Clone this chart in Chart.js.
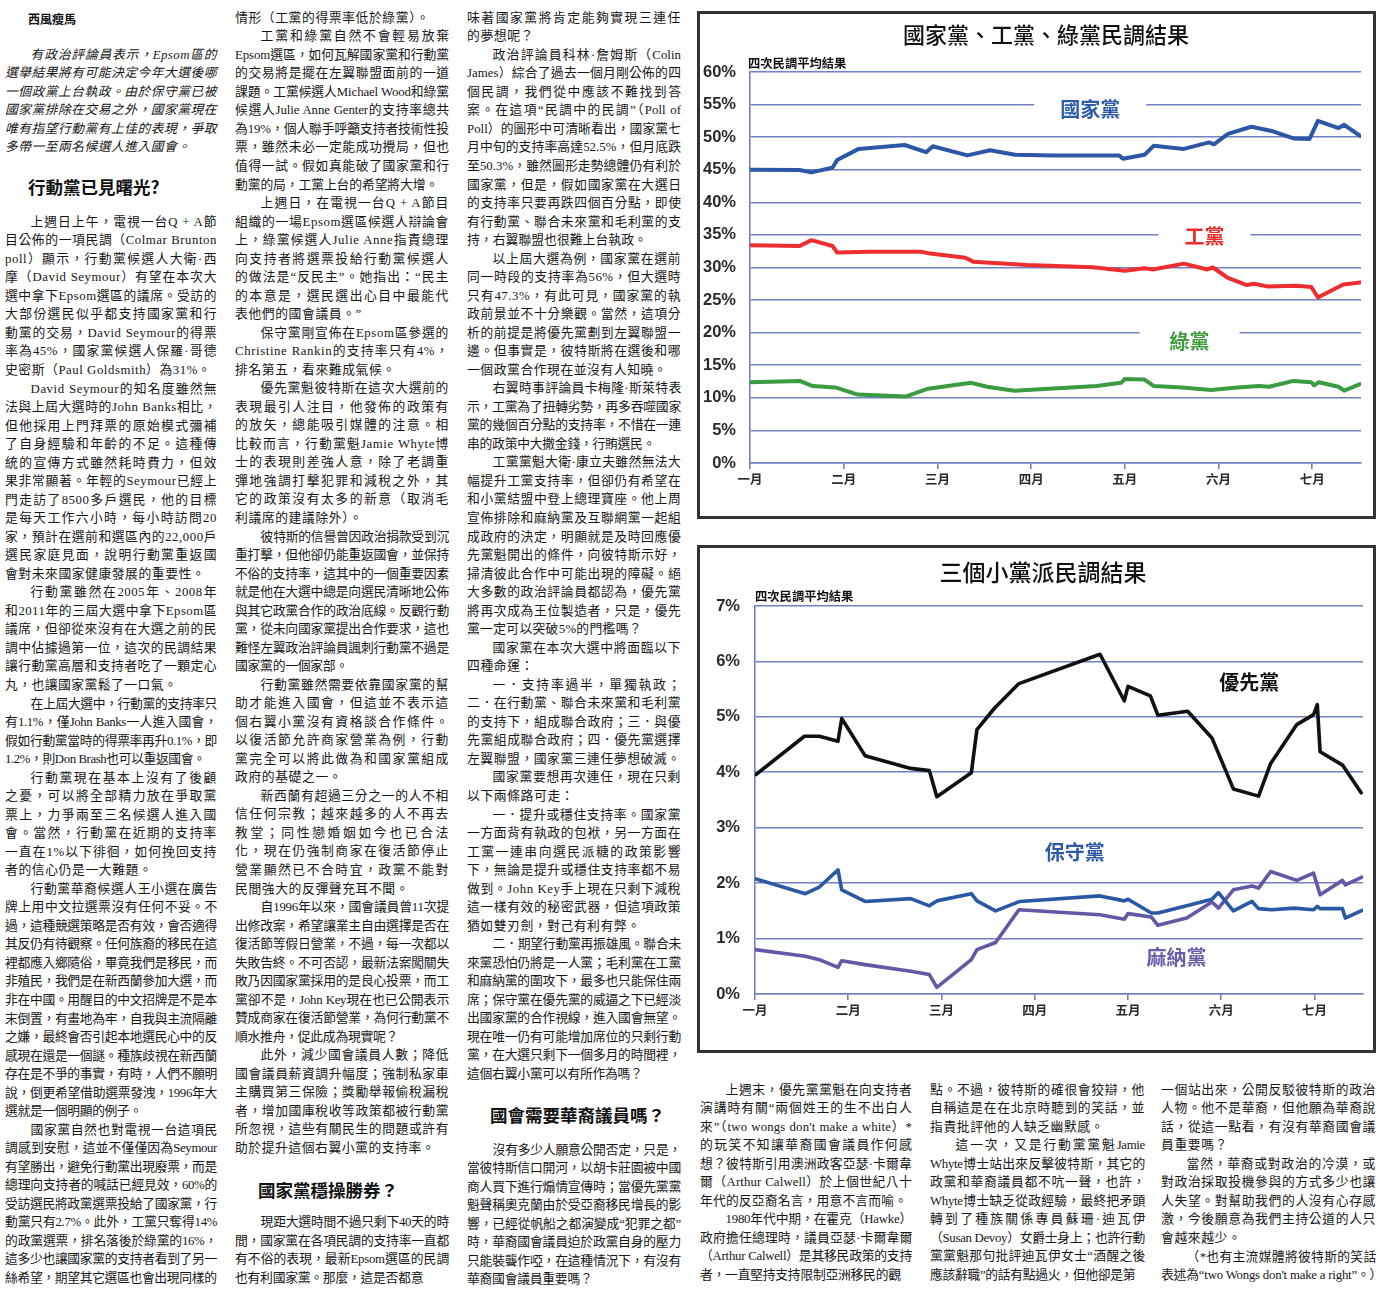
<!DOCTYPE html>
<html lang="zh-Hant">
<head>
<meta charset="utf-8">
<title>民調結果</title>
<script src="https://cdn.jsdelivr.net/npm/chart.js@4.4.1/dist/chart.umd.min.js"></script>
<style>
  html, body { margin: 0; padding: 0; background: #fff; }
  body { position: relative; width: 1378px; height: 1290px; overflow: hidden;
         font-family: "Liberation Serif", "Noto Sans CJK TC", serif; color: #161616; }
  .p { position: absolute; font-size: 12.8px; line-height: 18.53px; text-align: justify; text-indent: 2em; }
  .ni { text-indent: 0; }
  .c1 { left: 5px; width: 212px; }
  .c2 { left: 235px; width: 214px; }
  .c3 { left: 467px; width: 214px; }
  .c4 { left: 700px; width: 212px; }
  .c5 { left: 930px; width: 215px; }
  .c6 { left: 1161px; width: 215px; }
  .h { position: absolute; font-family: "Noto Sans CJK TC", sans-serif; font-weight: bold; font-size: 17.5px; line-height: 22px; color: #111; }
  .box { position: absolute; left: 697px; width: 679px; height: 508px; border: 3px solid #333; box-sizing: border-box; }
  .box canvas { position: absolute; left: 0; top: 0; }
  .ttl { position: absolute; font-family: "Noto Sans CJK TC", sans-serif; font-weight: 500; color: #111; white-space: nowrap; transform: translateX(-50%); }
  .sub { position: absolute; font-family: "Noto Sans CJK TC", sans-serif; font-weight: bold; font-size: 12.3px; color: #111; white-space: nowrap; }
</style>
</head>
<body>

<!-- column 1 -->
<div class="h" style="left:28px;top:8px;font-size:12px;">西風瘦馬</div>
<div class="p c1" data-l="6" style="top:45.7px;font-style:italic;">有政治評論員表示，Epsom區的選舉結果將有可能決定今年大選後哪一個政黨上台執政。由於保守黨已被國家黨排除在交易之外，國家黨現在唯有指望行動黨有上佳的表現，爭取多帶一至兩名候選人進入國會。</div>
<div class="h" style="left:28px;top:176px;">行動黨已見曙光?</div>
<div class="p c1" data-l="9" style="top:212.7px;">上週日上午，電視一台Q + A節目公佈的一項民調（Colmar Brunton poll）顯示，行動黨候選人大衛·西摩（David Seymour）有望在本次大選中拿下Epsom選區的議席。受訪的大部份選民似乎都支持國家黨和行動黨的交易，David Seymour的得票率為45%，國家黨候選人保羅·哥德史密斯（Paul Goldsmith）為31%。</div>
<div class="p c1" data-l="11" style="top:379.5px;">David Seymour的知名度雖然無法與上屆大選時的John Banks相比，但他採用上門拜票的原始模式彌補了自身經驗和年齡的不足。這種傳統的宣傳方式雖然耗時費力，但效果非常顯著。年輕的Seymour已經上門走訪了8500多戶選民，他的目標是每天工作六小時，每小時訪問20家，預計在選前和選區內的22,000戶選民家庭見面，說明行動黨重返國會對未來國家健康發展的重要性。</div>
<div class="p c1" data-l="6" style="top:583.3px;">行動黨雖然在2005年、2008年和2011年的三屆大選中拿下Epsom區議席，但卻從來沒有在大選之前的民調中佔據過第一位，這次的民調結果讓行動黨高層和支持者吃了一顆定心丸，也讓國家黨鬆了一口氣。</div>
<div class="p c1" data-l="4" style="top:694.5px;">在上屆大選中，行動黨的支持率只有1.1%，僅John Banks一人進入國會，假如行動黨當時的得票率再升0.1%，即1.2%，則Don Brash也可以重返國會。</div>
<div class="p c1" data-l="6" style="top:768.6px;">行動黨現在基本上沒有了後顧之憂，可以將全部精力放在爭取黨票上，力爭兩至三名候選人進入國會。當然，行動黨在近期的支持率一直在1%以下徘徊，如何挽回支持者的信心仍是一大難題。</div>
<div class="p c1" data-l="13" style="top:879.8px;">行動黨華裔候選人王小選在廣告牌上用中文拉選票沒有任何不妥。不過，這種競選策略是否有效，會否適得其反仍有待觀察。任何族裔的移民在這裡都應入鄉隨俗，畢竟我們是移民，而非殖民，我們是在新西蘭參加大選，而非在中國。用醒目的中文招牌是不是本末倒置，有畫地為牢，自我與主流隔離之嫌，最終會否引起本地選民心中的反感現在還是一個謎。種族歧視在新西蘭存在是不爭的事實，有時，人們不願明說，倒更希望借助選票發洩，1996年大選就是一個明顯的例子。</div>
<div class="p c1" data-l="9" style="top:1120.7px;">國家黨自然也對電視一台這項民調感到安慰，這並不僅僅因為Seymour有望勝出，避免行動黨出現廢票，而是總理向支持者的喊話已經見效，60%的受訪選民將政黨選票投給了國家黨，行動黨只有2.7%。此外，工黨只奪得14%的政黨選票，排名落後於綠黨的16%，這多少也讓國家黨的支持者看到了另一絲希望，期望其它選區也會出現同樣的</div>

<!-- column 2 -->
<div class="p c2 ni" data-l="1" style="top:8.7px;">情形（工黨的得票率低於綠黨）。</div>
<div class="p c2" data-l="9" style="top:27.3px;">工黨和綠黨自然不會輕易放棄Epsom選區，如何瓦解國家黨和行動黨的交易將是擺在左翼聯盟面前的一道課題。工黨候選人Michael Wood和綠黨候選人Julie Anne Genter的支持率總共為19%，個人聯手呼籲支持者技術性投票，雖然未必一定能成功攪局，但也值得一試。假如真能破了國家黨和行動黨的局，工黨上台的希望將大增。</div>
<div class="p c2" data-l="7" style="top:194px;">上週日，在電視一台Q + A節目組織的一場Epsom選區候選人辯論會上，綠黨候選人Julie Anne指責總理向支持者將選票投給行動黨候選人的做法是“反民主”。她指出：“民主的本意是，選民選出心目中最能代表他們的國會議員。”</div>
<div class="p c2" data-l="3" style="top:323.7px;">保守黨剛宣佈在Epsom區參選的Christine Rankin的支持率只有4%，排名第五，看來難成氣候。</div>
<div class="p c2" data-l="8" style="top:379.3px;">優先黨魁彼特斯在這次大選前的表現最引人注目，他發佈的政策有的放矢，總能吸引媒體的注意。相比較而言，行動黨魁Jamie Whyte博士的表現則差強人意，除了老調重彈地強調打擊犯罪和減稅之外，其它的政策沒有太多的新意（取消毛利議席的建議除外）。</div>
<div class="p c2" data-l="8" style="top:527.5px;">彼特斯的信譽曾因政治捐款受到沉重打擊，但他卻仍能重返國會，並保持不俗的支持率，這其中的一個重要因素就是他在大選中總是向選民清晰地公佈與其它政黨合作的政治底線。反觀行動黨，從未向國家黨提出合作要求，這也難怪左翼政治評論員諷刺行動黨不過是國家黨的一個家部。</div>
<div class="p c2" data-l="6" style="top:675.7px;">行動黨雖然需要依靠國家黨的幫助才能進入國會，但這並不表示這個右翼小黨沒有資格談合作條件。以復活節允許商家營業為例，行動黨完全可以將此做為和國家黨組成政府的基礎之一。</div>
<div class="p c2" data-l="6" style="top:786.9px;">新西蘭有超過三分之一的人不相信任何宗教；越來越多的人不再去教堂；同性戀婚姻如今也已合法化，現在仍強制商家在復活節停止營業顯然已不合時宜，政黨不能對民間強大的反彈聲充耳不聞。</div>
<div class="p c2" data-l="8" style="top:898.1px;">自1996年以來，國會議員曾11次提出修改案，希望讓業主自由選擇是否在復活節等假日營業，不過，每一次都以失敗告終。不可否認，最新法案闖關失敗乃因國家黨採用的是良心投票，而工黨卻不是，John Key現在也已公開表示贊成商家在復活節營業，為何行動黨不順水推舟，促此成為現實呢？</div>
<div class="p c2" data-l="6" style="top:1046.3px;">此外，減少國會議員人數；降低國會議員薪資調升幅度；強制私家車主購買第三保險；獎勵舉報偷稅漏稅者，增加國庫稅收等政策都被行動黨所忽視，這些有關民生的問題或許有助於提升這個右翼小黨的支持率。</div>
<div class="h" style="left:258px;top:1179px;">國家黨穩操勝券？</div>
<div class="p c2" data-l="4" style="top:1213.1px;">現距大選時間不過只剩下40天的時間，國家黨在各項民調的支持率一直都有不俗的表現，最新Epsom選區的民調也有利國家黨。那麼，這是否都意</div>

<!-- column 3 -->
<div class="p c3 ni" data-l="2" style="top:8.7px;">味著國家黨將肯定能夠實現三連任的夢想呢？</div>
<div class="p c3" data-l="11" style="top:45.8px;">政治評論員科林·詹姆斯（Colin James）綜合了過去一個月剛公佈的四個民調，我們從中應該不難找到答案。在這項“民調中的民調”（Poll of Poll）的圖形中可清晰看出，國家黨七月中旬的支持率高達52.5%，但月底跌至50.3%，雖然圖形走勢總體仍有利於國家黨，但是，假如國家黨在大選日的支持率只要再跌四個百分點，即使有行動黨、聯合未來黨和毛利黨的支持，右翼聯盟也很難上台執政。</div>
<div class="p c3" data-l="7" style="top:249.6px;">以上屆大選為例，國家黨在選前同一時段的支持率為56%，但大選時只有47.3%，有此可見，國家黨的執政前景並不十分樂觀。當然，這項分析的前提是將優先黨劃到左翼聯盟一邊。但事實是，彼特斯將在選後和哪一個政黨合作現在並沒有人知曉。</div>
<div class="p c3" data-l="4" style="top:379.3px;">右翼時事評論員卡梅隆·斯萊特表示，工黨為了扭轉劣勢，再多吞噬國家黨的幾個百分點的支持率，不惜在一連串的政策中大撒金錢，行賄選民。</div>
<div class="p c3" data-l="10" style="top:453.4px;">工黨黨魁大衛·康立夫雖然無法大幅提升工黨支持率，但卻仍有希望在和小黨結盟中登上總理寶座。他上周宣佈排除和麻納黨及互聯網黨一起組成政府的決定，明顯就是及時回應優先黨魁開出的條件，向彼特斯示好，掃清彼此合作中可能出現的障礙。絕大多數的政治評論員都認為，優先黨將再次成為王位製造者，只是，優先黨一定可以突破5%的門檻嗎？</div>
<div class="p c3" data-l="2" style="top:638.7px;">國家黨在本次大選中將面臨以下四種命運：</div>
<div class="p c3" data-l="5" style="top:675.7px;">一．支持率過半，單獨執政；二．在行動黨、聯合未來黨和毛利黨的支持下，組成聯合政府；三．與優先黨組成聯合政府；四．優先黨選擇左翼聯盟，國家黨三連任夢想破滅。</div>
<div class="p c3" data-l="2" style="top:768.4px;">國家黨要想再次連任，現在只剩以下兩條路可走：</div>
<div class="p c3" data-l="7" style="top:805.5px;">一．提升或穩住支持率。國家黨一方面背有執政的包袱，另一方面在工黨一連串向選民派糖的政策影響下，無論是提升或穩住支持率都不易做到。John Key手上現在只剩下減稅這一樣有效的秘密武器，但這項政策猶如雙刃劍，對己有利有弊。</div>
<div class="p c3" data-l="8" style="top:935.2px;">二．期望行動黨再振雄風。聯合未來黨恐怕仍將是一人黨；毛利黨在工黨和麻納黨的圍攻下，最多也只能保住兩席；保守黨在優先黨的威逼之下已經淡出國家黨的合作視線，進入國會無望。現在唯一仍有可能增加席位的只剩行動黨，在大選只剩下一個多月的時間裡，這個右翼小黨可以有所作為嗎？</div>
<div class="h" style="left:490px;top:1104px;">國會需要華裔議員嗎？</div>
<div class="p c3" data-l="8" style="top:1140.7px;">沒有多少人願意公開否定，只是，當彼特斯信口開河，以胡卡莊園被中國商人買下進行煽情宣傳時；當優先黨黨魁聲稱奧克蘭由於受亞裔移民增長的影響，已經從帆船之都演變成“犯罪之都”時，華裔國會議員迫於政黨自身的壓力只能裝聾作啞，在這種情況下，有沒有華裔國會議員重要嗎？</div>

<!-- chart 1 -->
<div class="box" style="top:11px;"><canvas id="pollMain" width="673" height="502"></canvas></div>
<div class="ttl" style="left:1046px;top:17px;font-size:22px;">國家黨、工黨、綠黨民調結果</div>
<div class="sub" style="left:748px;top:54px;">四次民調平均結果</div>

<!-- chart 2 -->
<div class="box" style="top:545px;"><canvas id="pollMinor" width="673" height="502"></canvas></div>
<div class="ttl" style="left:1043px;top:554px;font-size:23px;">三個小黨派民調結果</div>
<div class="sub" style="left:755px;top:587px;">四次民調平均結果</div>

<!-- bottom right columns -->
<div class="p c4" data-l="7" style="top:1080.7px;">上週末，優先黨黨魁在向支持者演講時有關“兩個姓王的生不出白人來”（two wongs don't make a white）*的玩笑不知讓華裔國會議員作何感想？彼特斯引用澳洲政客亞瑟·卡爾韋爾（Arthur Calwell）於上個世紀八十年代的反亞裔名言，用意不言而喻。</div>
<div class="p c4" data-l="4" style="top:1210px;">1980年代中期，在霍克（Hawke）政府擔任總理時，議員亞瑟·卡爾韋爾（Arthur Calwell）是其移民政策的支持者，一直堅持支持限制亞洲移民的觀</div>
<div class="p c5 ni" data-l="3" style="top:1080.7px;">點。不過，彼特斯的確很會狡辯，他自稱這是在在北京時聽到的笑話，並指責批評他的人缺乏幽默感。</div>
<div class="p c5" data-l="8" style="top:1136.3px;">這一次，又是行動黨黨魁Jamie Whyte博士站出來反擊彼特斯，其它的政黨和華裔議員都不吭一聲，也許，Whyte博士缺乏從政經驗，最終把矛頭轉到了種族關係專員蘇珊·迪瓦伊（Susan Devoy）女爵士身上；也許行動黨黨魁那句批評迪瓦伊女士“酒醒之後應該辭職”的話有點過火，但他卻是第</div>
<div class="p c6 ni" data-l="4" style="top:1080.7px;">一個站出來，公開反駁彼特斯的政治人物。他不是華裔，但他願為華裔說話，從這一點看，有沒有華裔國會議員重要嗎？</div>
<div class="p c6" data-l="5" style="top:1154.8px;">當然，華裔或對政治的冷漠，或對政治採取投機參與的方式多少也讓人失望。對幫助我們的人沒有心存感激，今後願意為我們主持公道的人只會越來越少。</div>
<div class="p c6" data-l="2" style="top:1247.5px;">（*也有主流媒體將彼特斯的笑話表述為“two Wongs don't make a right”。）</div>

<script>
'use strict';

/* MONTHS ON THE X AXIS (0 = 一月 ... 6 = 七月) */
const months = ['一月', '二月', '三月', '四月', '五月', '六月', '七月'];

/* CHART 1: 國家黨 / 工黨 / 綠黨, percent */
const nationalX = [0, 0.53, 0.655, 0.88, 0.93, 1.16, 1.65, 1.88, 1.95, 2.32, 2.56, 2.83, 3.24, 3.94, 3.98, 4.21, 4.31, 4.63, 4.90, 4.95, 5.10, 5.35, 5.58, 5.80, 5.97, 6.06, 6.28, 6.34, 6.51];
const nationalY = [45.0, 44.95, 44.6, 45.3, 46.5, 48.2, 48.8, 47.7, 48.6, 47.2, 48.0, 47.3, 47.2, 47.2, 46.7, 47.3, 48.7, 48.2, 49.2, 48.9, 50.5, 51.6, 50.9, 49.8, 49.7, 52.5, 51.4, 51.9, 50.2];

const labourX = [0, 0.53, 0.655, 0.88, 0.93, 1.27, 1.83, 1.9, 2.30, 2.38, 2.96, 3.66, 4.0, 4.21, 4.30, 4.63, 4.88, 4.94, 5.10, 5.30, 5.38, 5.52, 5.83, 5.99, 6.06, 6.33, 6.51];
const labourY = [33.4, 33.3, 34.2, 33.3, 32.3, 32.4, 32.4, 32.2, 31.5, 30.9, 30.4, 30.05, 29.5, 29.9, 29.7, 30.6, 29.7, 30.0, 28.4, 27.3, 27.5, 27.1, 27.2, 27.0, 25.4, 27.4, 27.7];

const greenX = [0, 0.53, 0.67, 0.91, 1.15, 1.66, 1.90, 2.36, 2.53, 2.82, 3.70, 3.96, 4.0, 4.21, 4.31, 4.61, 4.92, 5.20, 5.43, 5.54, 5.80, 5.99, 6.02, 6.07, 6.28, 6.34, 6.51];
const greenY = [12.4, 12.6, 11.8, 11.6, 10.5, 10.2, 11.4, 12.3, 11.7, 11.1, 11.8, 12.3, 12.9, 12.8, 11.8, 11.6, 11.2, 11.6, 11.8, 11.7, 12.6, 12.4, 11.9, 12.4, 11.7, 11.1, 12.1];

/* CHART 2: 優先黨 / 保守黨 / 麻納黨, percent */
const nzFirstX = [0.01, 0.53, 0.69, 0.89, 0.93, 1.18, 1.67, 1.87, 1.95, 2.32, 2.38, 2.57, 2.83, 3.70, 3.96, 4.0, 4.24, 4.32, 4.64, 4.90, 5.13, 5.40, 5.53, 5.81, 5.99, 6.03, 6.06, 6.30, 6.50];
const nzFirstY = [3.96, 4.65, 4.65, 4.56, 4.97, 4.30, 4.07, 4.03, 3.56, 3.99, 4.77, 5.16, 5.60, 6.13, 5.29, 5.55, 5.38, 5.03, 5.10, 4.62, 3.70, 3.57, 4.16, 4.86, 5.04, 5.22, 4.37, 4.13, 3.63];

const conservX = [0, 0.54, 0.69, 0.89, 0.93, 1.18, 1.67, 1.87, 1.95, 2.32, 2.38, 2.58, 2.84, 3.70, 3.96, 4.0, 4.25, 4.32, 4.63, 4.90, 4.97, 5.13, 5.33, 5.40, 5.54, 5.78, 5.99, 6.03, 6.06, 6.30, 6.33, 6.51];
const conservY = [2.08, 1.81, 1.93, 2.24, 1.88, 1.67, 1.72, 1.59, 1.68, 1.81, 1.68, 1.50, 1.67, 1.77, 1.68, 1.71, 1.46, 1.46, 1.59, 1.71, 1.83, 1.50, 1.67, 1.54, 1.52, 1.55, 1.52, 1.58, 1.54, 1.54, 1.37, 1.51];

const manaX = [0, 0.54, 0.69, 0.89, 0.93, 1.18, 1.67, 1.87, 1.95, 2.32, 2.38, 2.58, 2.83, 3.70, 3.96, 4.0, 4.25, 4.32, 4.63, 4.90, 4.97, 5.13, 5.33, 5.40, 5.53, 5.81, 5.99, 6.06, 6.30, 6.33, 6.51];
const manaY = [0.80, 0.68, 0.62, 0.48, 0.60, 0.53, 0.41, 0.35, 0.12, 0.62, 0.80, 0.93, 1.52, 1.43, 1.35, 1.45, 1.39, 1.24, 1.37, 1.66, 1.55, 1.88, 1.95, 1.91, 2.21, 2.05, 2.18, 1.79, 2.05, 1.97, 2.11];

const gridColor = '#7480c4';
const tickColor = '#2a2a2a';
const lineH = 18.53;

// squeeze each paragraph until it takes the same number of lines as the print
function fitParagraphs() {
  document.querySelectorAll('.p[data-l]').forEach(p => {
    const want = +p.dataset.l * lineH + 1;
    let ls = 0.6;
    p.style.letterSpacing = ls + 'px';
    while (p.offsetHeight > want && ls > -1.5) {
      ls -= 0.05;
      p.style.letterSpacing = ls.toFixed(2) + 'px';
    }
  });
}

function toPoints(xs, ys) {
  return xs.map((x, i) => ({ x: x, y: ys[i] }));
}

function lineSet(label, xs, ys, color, width) {
  return {
    label: label,
    data: toPoints(xs, ys),
    borderColor: color,
    borderWidth: width,
    pointRadius: 0,
    tension: 0,
    borderJoinStyle: 'round',
    borderCapStyle: 'round',
    fill: false
  };
}

// party names written inside the plot, with a white patch over the grid line
const seriesLabels = {
  id: 'seriesLabels',
  beforeDatasetsDraw(chart, args, opts) {
    const ctx = chart.ctx;
    const xs = chart.scales.x;
    const ys = chart.scales.y;
    (opts.items || []).forEach(it => {
      const px = xs.getPixelForValue(it.x);
      const py = ys.getPixelForValue(it.y);
      ctx.save();
      ctx.font = opts.font;
      const w = ctx.measureText(it.text).width;
      if (it.gap) {
        ctx.fillStyle = '#fff';
        ctx.fillRect(px - w / 2 - it.gap, py - 13, w + it.gap * 2, 26);
      }
      ctx.fillStyle = it.color;
      ctx.textAlign = 'center';
      ctx.textBaseline = 'middle';
      ctx.fillText(it.text, px, py);
      ctx.restore();
    });
  }
};

function makeChart(id, datasets, yMax, yStep, area, labelItems) {
  const ctx = document.getElementById(id).getContext('2d');
  return new Chart(ctx, {
    type: 'line',
    data: { datasets: datasets },
    plugins: [seriesLabels],
    options: {
      responsive: false,
      animation: false,
      layout: { padding: { top: area.top, right: area.right, left: 0, bottom: 0 } },
      plugins: {
        legend: { display: false },
        tooltip: { enabled: false },
        seriesLabels: { font: 'bold 20px "Noto Sans CJK TC"', items: labelItems }
      },
      scales: {
        x: {
          type: 'linear',
          min: 0,
          max: 6.52,
          afterBuildTicks: scale => { scale.ticks = months.map((m, i) => ({ value: i })); },
          afterFit: scale => { scale.height = area.xHeight; },
          ticks: {
            callback: v => months[v],
            font: { family: 'Noto Sans CJK TC', size: 12.5, weight: 'bold' },
            color: tickColor,
            padding: 3,
            maxRotation: 0,
            autoSkip: false
          },
          grid: { drawOnChartArea: false, drawTicks: true, tickLength: 6, color: gridColor, lineWidth: 1.6 },
          border: { display: true, color: gridColor, width: 1.6 }
        },
        y: {
          min: 0,
          max: yMax,
          afterFit: scale => { scale.width = area.yWidth; },
          ticks: {
            stepSize: yStep,
            callback: v => v + '%',
            font: { family: 'Liberation Sans', size: 16.5, weight: 'bold' },
            color: tickColor,
            padding: area.tickPad
          },
          grid: { color: gridColor, lineWidth: 1.6, drawTicks: false },
          border: { display: true, color: gridColor, width: 1.6 }
        }
      }
    }
  });
}

fitParagraphs();

makeChart('pollMain', [
  lineSet('國家黨', nationalX, nationalY, '#2c56a6', 4),
  lineSet('工黨', labourX, labourY, '#ee2e2e', 4),
  lineSet('綠黨', greenX, greenY, '#3a9b41', 4)
], 60, 5, { top: 58, right: 12, xHeight: 53, yWidth: 50, tickPad: 14 }, [
  { text: '國家黨', x: 3.63, y: 54.2, color: '#2d5cab', gap: 26 },
  { text: '工黨', x: 4.85, y: 34.7, color: '#ee2b2b', gap: 26 },
  { text: '綠黨', x: 4.69, y: 18.6, color: '#3f9c3c', gap: 30 }
]);

makeChart('pollMinor', [
  lineSet('優先黨', nzFirstX, nzFirstY, '#111111', 3.6),
  lineSet('保守黨', conservX, conservY, '#2a58a4', 3.6),
  lineSet('麻納黨', manaX, manaY, '#6657a6', 3.6)
], 7, 1, { top: 58, right: 10, xHeight: 56, yWidth: 55, tickPad: 15 }, [
  { text: '優先黨', x: 5.30, y: 5.63, color: '#111111', gap: 0 },
  { text: '保守黨', x: 3.43, y: 2.56, color: '#2c5aa6', gap: 0 },
  { text: '麻納黨', x: 4.52, y: 0.66, color: '#6b5ca8', gap: 0 }
]);

if (document.fonts && document.fonts.ready) {
  document.fonts.ready.then(fitParagraphs);
}
</script>
</body>
</html>
